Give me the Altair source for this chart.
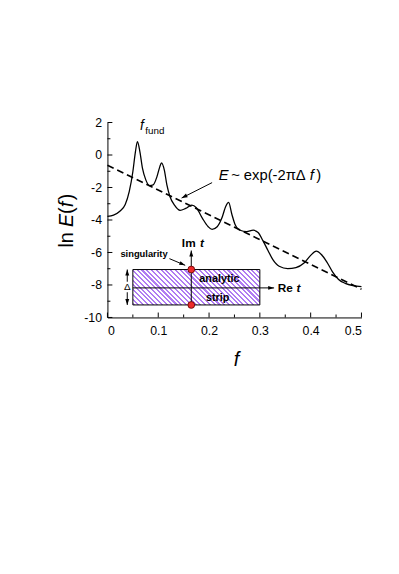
import altair as alt
import pandas as pd

# ---------------- data ----------------
curve_f = [0.0, 0.012, 0.025, 0.035, 0.043, 0.050, 0.055, 0.059, 0.064, 0.069, 0.0755,
           0.083, 0.090, 0.0975, 0.103, 0.1065, 0.112, 0.117, 0.123, 0.132, 0.143, 0.154,
           0.166, 0.175, 0.187, 0.198, 0.206, 0.216, 0.225, 0.233, 0.2385, 0.245, 0.251,
           0.261, 0.274, 0.287, 0.2965, 0.306, 0.316, 0.3256, 0.338, 0.355, 0.371, 0.387,
           0.400, 0.411, 0.421, 0.432, 0.443, 0.455, 0.468, 0.484, 0.5]
curve_lnE = [-3.78, -3.70, -3.45, -3.05, -2.24, -1.03, 0.18, 0.83, 0.18, -0.83, -1.53,
             -1.88, -1.84, -1.33, -0.73, -0.48, -0.93, -1.84, -2.55, -3.09, -3.41, -3.29,
             -3.09, -3.25, -3.90, -4.40, -4.58, -4.42, -3.90, -3.15, -2.92, -3.66, -4.26,
             -4.63, -4.71, -4.63, -4.77, -5.27, -5.88, -6.44, -6.85, -6.99, -6.93, -6.65,
             -6.18, -5.92, -6.12, -6.59, -7.19, -7.66, -7.90, -8.04, -8.10]

dash_f = [0.0, 0.5]
dash_lnE = [-0.63, -8.26]

x_major = [0, 0.1, 0.2, 0.3, 0.4, 0.5]
x_minor = [0.05, 0.15, 0.25, 0.35, 0.45]
y_major = [-10, -8, -6, -4, -2, 0, 2]
y_minor = [-9, -7, -5, -3, -1, 1]

# inset (analytic strip)
strip_f = [0.05, 0.30]
strip_y = [-7.05, -9.23]
sing_f = [0.165, 0.165]
sing_y = [-7.05, -9.23]

# arrows: start (f, y) -> tip (f, y)
arrow_f0 = [0.206, 0.122, 0.05, 0.165, 0.039, 0.039]
arrow_y0 = [-1.70, -6.38, -8.18, -9.23, -7.80, -8.45]
arrow_f1 = [0.146, 0.153, 0.328, 0.165, 0.039, 0.039]
arrow_y1 = [-2.65, -6.79, -8.18, -5.88, -7.05, -9.23]
arrow_ang = [243, 113, 90, 0, 0, 180]

# text labels: (text, f, lnE, size, weight, style, align)
labels = [
    ("f", 0.064, 1.80, 14, "normal", "italic", "left"),
    ("fund", 0.0745, 1.50, 10, "normal", "normal", "left"),
    ("E", 0.219, -1.23, 15, "normal", "italic", "left"),
    ("~ exp(-2πΔ", 0.2435, -1.23, 15, "normal", "normal", "left"),
    ("f", 0.398, -1.23, 15, "normal", "italic", "left"),
    (")", 0.411, -1.23, 15, "normal", "normal", "left"),
    ("singularity", 0.072, -6.07, 9.5, "bold", "normal", "center"),
    ("Im", 0.1465, -5.43, 12, "bold", "normal", "left"),
    ("t", 0.182, -5.43, 12, "bold", "italic", "left"),
    ("Re", 0.335, -8.18, 12, "bold", "normal", "left"),
    ("t", 0.372, -8.18, 12, "bold", "italic", "left"),
    ("analytic", 0.2205, -7.66, 11, "bold", "normal", "center"),
    ("strip", 0.217, -8.81, 11, "bold", "normal", "center"),
    ("Δ", 0.039, -8.13, 10, "normal", "normal", "center"),
]

FONT = "Liberation Sans"
W, H = 258, 198

xs = alt.Scale(domain=[0, 0.5], nice=False, zero=False)
ys = alt.Scale(domain=[-10, 2], nice=False, zero=False)

AX = alt.Axis(values=x_major, format=".1~f", title=None, ticks=False, grid=False,
              labelPadding=7, labelOverlap=False, domainColor="black", labelColor="black",
              labelFontSize=12.5, labelFont=FONT)
AY = alt.Axis(values=y_major, labelExpr="'' + datum.value", title=None, ticks=False,
              grid=False, labelOverlap=False, labelPadding=6, domainColor="black",
              labelColor="black", labelFontSize=12.5, labelFont=FONT)


def X(field):
    return alt.X(field, scale=xs, axis=AX)


def Y(field):
    return alt.Y(field, scale=ys, axis=AY)


curve = alt.Chart(pd.DataFrame({"f": curve_f, "v": curve_lnE})).mark_line(
    color="black", strokeWidth=1.3, interpolate="monotone"
).encode(x=X("f:Q"), y=Y("v:Q"))

dash = alt.Chart(pd.DataFrame({"f": dash_f, "v": dash_lnE})).mark_line(
    color="black", strokeWidth=1.6, strokeDash=[7, 4]
).encode(x=X("f:Q"), y=Y("v:Q"))


# inward ticks
def yticks(vals, length):
    return alt.Chart(pd.DataFrame({"v": vals})).mark_rule(color="black", strokeWidth=1).encode(
        y=Y("v:Q"), x=alt.value(0), x2=alt.value(length))


def xticks(vals, length):
    return alt.Chart(pd.DataFrame({"f": vals})).mark_rule(color="black", strokeWidth=1).encode(
        x=X("f:Q"), y=alt.value(H), y2=alt.value(H - length))


# hatched strip via striped gradient
purple = "#b07cf2"
N = 34
stops = []
for i in range(N):
    a, b, c = i / N, (i + 0.45) / N, (i + 1) / N
    stops += [alt.GradientStop(offset=a, color=purple), alt.GradientStop(offset=b, color=purple),
              alt.GradientStop(offset=b, color="white"), alt.GradientStop(offset=c, color="white")]
grad = alt.LinearGradient(gradient="linear", stops=stops, x1=0, y1=1, x2=1.187, y2=0.669)

strip = alt.Chart(pd.DataFrame({"f0": [strip_f[0]], "f1": [strip_f[1]],
                                "y0": [strip_y[0]], "y1": [strip_y[1]]})).mark_rect(
    fill=grad, stroke="black", strokeWidth=1
).encode(x=X("f0:Q"), x2="f1:Q", y=Y("y0:Q"), y2="y1:Q")

arrows_df = pd.DataFrame({"f0": arrow_f0, "y0": arrow_y0, "f1": arrow_f1, "y1": arrow_y1,
                          "ang": arrow_ang})
arrow_lines = alt.Chart(arrows_df).mark_rule(color="black", strokeWidth=1).encode(
    x=X("f0:Q"), x2="f1:Q", y=Y("y0:Q"), y2="y1:Q")
arrow_heads = alt.Chart(arrows_df).mark_point(
    shape="M0,0L-1,3L1,3Z", filled=True, color="black", size=16, opacity=1, strokeWidth=0
).encode(x=X("f1:Q"), y=Y("y1:Q"), angle=alt.Angle("ang:Q", scale=None))

dots = alt.Chart(pd.DataFrame({"f": sing_f, "v": sing_y})).mark_point(
    filled=True, fill="#ee2b2b", stroke="#5a0000", strokeWidth=0.8, size=48, opacity=1
).encode(x=X("f:Q"), y=Y("v:Q"))

text_layers = []
for t, f, v, sz, wt, st, al in labels:
    text_layers.append(
        alt.Chart(pd.DataFrame({"f": [f], "v": [v], "t": [t]})).mark_text(
            font=FONT, fontSize=sz, fontWeight=wt, fontStyle=st, align=al,
            baseline="middle", color="black"
        ).encode(x=X("f:Q"), y=Y("v:Q"), text="t:N"))

# axis titles (pixel placement relative to plot area)
ylab_parts = [("ln ", "normal", 127), ("E", "italic", 106), ("(", "normal", 93),
              ("f", "italic", 86), (")", "normal", 79)]
for t, st, yy in ylab_parts:
    text_layers.append(
        alt.Chart(pd.DataFrame({"t": [t]})).mark_text(
            font=FONT, fontSize=20, fontStyle=st, align="left", baseline="middle",
            angle=270, color="black"
        ).encode(x=alt.value(-41), y=alt.value(yy), text="t:N"))
text_layers.append(
    alt.Chart(pd.DataFrame({"t": ["f"]})).mark_text(
        font=FONT, fontSize=20, fontStyle="italic", align="center", baseline="middle",
        color="black"
    ).encode(x=alt.value(131), y=alt.value(241), text="t:N"))

chart = alt.layer(
    strip, arrow_lines, arrow_heads, dots, dash, curve,
    yticks(y_major, 5), yticks(y_minor, 3), xticks(x_major, 5), xticks(x_minor, 3),
    *text_layers
).properties(
    width=W, height=H,
    autosize=alt.AutoSizeParams(type="none"),
    padding={"left": 101, "top": 112, "right": 30, "bottom": 240},
).configure_view(stroke=None).configure_axis(labelOverlap=False)

chart.save("out.html", embed_options={"renderer": "svg", "actions": False})
